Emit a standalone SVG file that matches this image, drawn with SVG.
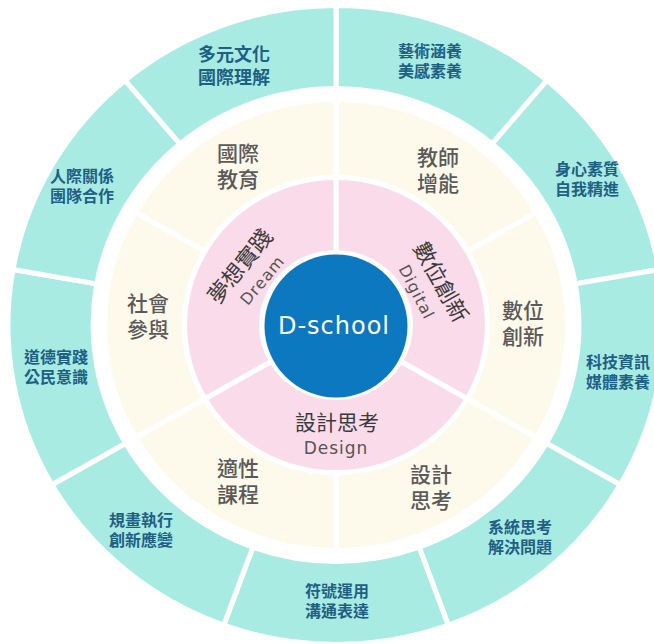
<svg xmlns="http://www.w3.org/2000/svg" width="654" height="644" viewBox="0 0 654 644">
<style>
.seg{stroke:#ffffff;stroke-width:5;stroke-linejoin:miter}
.teal{fill:#a8ebe3}
.cream{fill:#fdf9eb}
.pink{fill:#fadbe9}
.t1{font-family:"Noto Sans CJK TC","Noto Sans CJK SC",sans-serif;font-weight:700;font-size:16px;fill:#1e5f84;text-anchor:middle}
.t2{font-family:"Noto Sans CJK TC","Noto Sans CJK SC",sans-serif;font-weight:500;font-size:21px;fill:#5a5a5a;text-anchor:middle}
.t3{font-family:"Noto Sans CJK TC","Noto Sans CJK SC",sans-serif;font-weight:400;font-size:22px;fill:#3a3a3a;text-anchor:middle}
.en{font-family:"DejaVu Sans","Noto Sans",sans-serif;font-weight:400;font-size:16px;fill:#555555;text-anchor:middle;letter-spacing:1px}
</style>
<rect width="654" height="644" fill="#ffffff"/>

<!-- outer ring -->
<g id="n-yishu">
<path class="seg teal" transform="matrix(1.027 0 0 1 336 325)" d="M0,-319.5 A319.5,319.5 0 0 1 205.4,-244.7 L152,-181.2 A236.5,236.5 0 0 0 0,-236.5 Z"/>
<text class="t1" x="430" y="57"><tspan x="430">藝術涵養</tspan><tspan x="430" dy="19.5">美感素養</tspan></text>
</g>
<g id="n-shenxin">
<path class="seg teal" transform="matrix(1.027 0 0 1 336 325)" d="M205.4,-244.7 A319.5,319.5 0 0 1 314.6,-55.5 L232.9,-41.1 A236.5,236.5 0 0 0 152,-181.2 Z"/>
<text class="t1" x="587" y="175"><tspan x="587">身心素質</tspan><tspan x="587" dy="19.5">自我精進</tspan></text>
</g>
<g id="n-keji">
<path class="seg teal" transform="matrix(1.027 0 0 1 336 325)" d="M314.6,-55.5 A319.5,319.5 0 0 1 276.7,159.75 L204.8,118.25 A236.5,236.5 0 0 0 232.9,-41.1 Z"/>
<text class="t1" x="618" y="368"><tspan x="618">科技資訊</tspan><tspan x="618" dy="19.5">媒體素養</tspan></text>
</g>
<g id="n-xitong">
<path class="seg teal" transform="matrix(1.027 0 0 1 336 325)" d="M276.7,159.75 A319.5,319.5 0 0 1 109.3,300.2 L80.9,222.2 A236.5,236.5 0 0 0 204.8,118.25 Z"/>
<text class="t1" x="520" y="533"><tspan x="520">系統思考</tspan><tspan x="520" dy="19.5">解決問題</tspan></text>
</g>
<g id="n-fuhao">
<path class="seg teal" transform="matrix(1.027 0 0 1 336 325)" d="M109.3,300.2 A319.5,319.5 0 0 1 -109.3,300.2 L-80.9,222.2 A236.5,236.5 0 0 0 80.9,222.2 Z"/>
<text class="t1" x="337" y="597"><tspan x="337">符號運用</tspan><tspan x="337" dy="19.5">溝通表達</tspan></text>
</g>
<g id="n-guihua">
<path class="seg teal" transform="matrix(1.027 0 0 1 336 325)" d="M-109.3,300.2 A319.5,319.5 0 0 1 -276.7,159.75 L-204.8,118.25 A236.5,236.5 0 0 0 -80.9,222.2 Z"/>
<text class="t1" x="141" y="526"><tspan x="141">規畫執行</tspan><tspan x="141" dy="19.5">創新應變</tspan></text>
</g>
<g id="n-daode">
<path class="seg teal" transform="matrix(1.027 0 0 1 336 325)" d="M-276.7,159.75 A319.5,319.5 0 0 1 -314.6,-55.5 L-232.9,-41.1 A236.5,236.5 0 0 0 -204.8,118.25 Z"/>
<text class="t1" x="56" y="363"><tspan x="56">道德實踐</tspan><tspan x="56" dy="19.5">公民意識</tspan></text>
</g>
<g id="n-renji">
<path class="seg teal" transform="matrix(1.027 0 0 1 336 325)" d="M-314.6,-55.5 A319.5,319.5 0 0 1 -205.4,-244.7 L-152,-181.2 A236.5,236.5 0 0 0 -232.9,-41.1 Z"/>
<text class="t1" x="82" y="182"><tspan x="82">人際關係</tspan><tspan x="82" dy="19.5">團隊合作</tspan></text>
</g>
<g id="n-duoyuan">
<path class="seg teal" transform="matrix(1.027 0 0 1 336 325)" d="M-205.4,-244.7 A319.5,319.5 0 0 1 0,-319.5 L0,-236.5 A236.5,236.5 0 0 0 -152,-181.2 Z"/>
<text class="t1" x="234" y="61" style="font-size:18px"><tspan x="234">多元文化</tspan><tspan x="234" dy="22.5">國際理解</tspan></text>
</g>

<!-- middle ring -->
<g id="n-jiaoshi">
<path class="seg cream" transform="matrix(1.027 0 0 1 336 325)" d="M0,-225.5 A225.5,225.5 0 0 1 195.3,-112.75 L127.7,-73.75 A147.5,147.5 0 0 0 0,-147.5 Z"/>
<text class="t2" x="438" y="165"><tspan x="438">教師</tspan><tspan x="438" dy="26">增能</tspan></text>
</g>
<g id="n-shuwei">
<path class="seg cream" transform="matrix(1.027 0 0 1 336 325)" d="M195.3,-112.75 A225.5,225.5 0 0 1 195.3,112.75 L127.7,73.75 A147.5,147.5 0 0 0 127.7,-73.75 Z"/>
<text class="t2" x="523" y="318"><tspan x="523">數位</tspan><tspan x="523" dy="26">創新</tspan></text>
</g>
<g id="n-sheji">
<path class="seg cream" transform="matrix(1.027 0 0 1 336 325)" d="M195.3,112.75 A225.5,225.5 0 0 1 0,225.5 L0,147.5 A147.5,147.5 0 0 0 127.7,73.75 Z"/>
<text class="t2" x="431" y="482"><tspan x="431">設計</tspan><tspan x="431" dy="26">思考</tspan></text>
</g>
<g id="n-shixing">
<path class="seg cream" transform="matrix(1.027 0 0 1 336 325)" d="M0,225.5 A225.5,225.5 0 0 1 -195.3,112.75 L-127.7,73.75 A147.5,147.5 0 0 0 0,147.5 Z"/>
<text class="t2" x="238" y="476"><tspan x="238">適性</tspan><tspan x="238" dy="26">課程</tspan></text>
</g>
<g id="n-shehui">
<path class="seg cream" transform="matrix(1.027 0 0 1 336 325)" d="M-195.3,112.75 A225.5,225.5 0 0 1 -195.3,-112.75 L-127.7,-73.75 A147.5,147.5 0 0 0 -127.7,73.75 Z"/>
<text class="t2" x="148" y="311"><tspan x="148">社會</tspan><tspan x="148" dy="26">參與</tspan></text>
</g>
<g id="n-guoji">
<path class="seg cream" transform="matrix(1.027 0 0 1 336 325)" d="M-195.3,-112.75 A225.5,225.5 0 0 1 0,-225.5 L0,-147.5 A147.5,147.5 0 0 0 -127.7,-73.75 Z"/>
<text class="t2" x="238" y="161"><tspan x="238">國際</tspan><tspan x="238" dy="26">教育</tspan></text>
</g>

<!-- inner ring -->
<g id="n-digital">
<path class="seg pink" transform="matrix(1.027 0 0 1 336 325)" d="M0,-147.5 A147.5,147.5 0 0 1 127.7,73.75 L62.8,36.25 A72.5,72.5 0 0 0 0,-72.5 Z"/>
<text class="t3" transform="translate(441,282) rotate(61)" x="0" y="8">數位創新</text>
<text class="en" transform="translate(417,292) rotate(63)" x="0" y="6">Digital</text>
</g>
<g id="n-design">
<path class="seg pink" transform="matrix(1.027 0 0 1 336 325)" d="M127.7,73.75 A147.5,147.5 0 0 1 -127.7,73.75 L-62.8,36.25 A72.5,72.5 0 0 0 62.8,36.25 Z"/>
<text class="t3" x="337" y="430" style="font-size:21px">設計思考</text>
<text class="en" x="336" y="454" style="font-size:17px">Design</text>
</g>
<g id="n-dream">
<path class="seg pink" transform="matrix(1.027 0 0 1 336 325)" d="M-127.7,73.75 A147.5,147.5 0 0 1 0,-147.5 L0,-72.5 A72.5,72.5 0 0 0 -62.8,36.25 Z"/>
<text class="t3" transform="translate(240,266) rotate(-51)" x="0" y="8">夢想實踐</text>
<text class="en" transform="translate(262,280) rotate(-50)" x="0" y="6">Dream</text>
</g>

<!-- center -->
<g id="n-center">
<circle cx="336" cy="326" r="71.5" fill="#0b78bf"/>
<text x="334" y="334" style="font-family:'DejaVu Sans','Noto Sans',sans-serif;font-size:24px;fill:#ffffff;text-anchor:middle;letter-spacing:1px">D-school</text>
</g>
</svg>
